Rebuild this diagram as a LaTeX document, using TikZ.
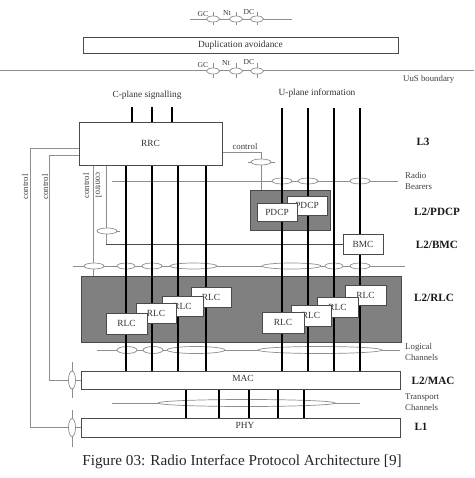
\documentclass[tikz,border=0pt]{standalone}
\usepackage{fontspec}
\setmainfont{Liberation Serif}
\usetikzlibrary{positioning,backgrounds}

\newcommand{\px}{0.03cm}
\definecolor{boxline}{HTML}{4A4A4A}
\definecolor{thinline}{HTML}{8E8E8E}
\definecolor{shade}{HTML}{808080}

\tikzset{
  box/.style={draw=boxline, fill=white, line width=0.6pt, inner sep=0pt, text=black!80, font=\fontsize{8}{9}\selectfont},
  zone/.style={draw=boxline, fill=shade, line width=0.6pt, inner sep=0pt},
  chan/.style={line width=2pt, black},
  ctrl/.style={draw=thinline, line width=0.6pt},
  oval/.style={draw=thinline, fill=white, line width=0.6pt},
  layer/.style={font=\fontsize{9.5}{10}\selectfont\bfseries, text=black!90},
  note/.style={font=\fontsize{7.5}{9.5}\selectfont, text=black!75, align=left, inner sep=0pt},
  tag/.style={font=\fontsize{6.5}{7}\selectfont, text=black!80, inner sep=0pt},
}

\begin{document}
\begin{tikzpicture}[x=0.03cm, y=-0.03cm]
\useasboundingbox (0,0) rectangle (474,478);

% Duplication avoidance and UuS boundary
\node[box, minimum width=315*\px, minimum height=16*\px] (dup) at (240.5,45) {Duplication avoidance};
\node[note, anchor=west] (uus) at (403,79) {UuS boundary};

% Boxes
\node[box, minimum width=143*\px, minimum height=43*\px] (rrc) at (150.5,143.5) {RRC};
\node[box, minimum width=40*\px, minimum height=19*\px] (pdcpB) at (307,205.5) {PDCP};
\node[box, minimum width=40*\px, minimum height=18*\px] (pdcpA) at (277,212) {PDCP};
\node[box, minimum width=40*\px, minimum height=20*\px] (bmc) at (363,244) {BMC};

% RLC boxes, back to front
\node[box, minimum width=40*\px, minimum height=20*\px] (rlcL4) at (211,297) {RLC};
\node[box, minimum width=41*\px, minimum height=20*\px] (rlcL3) at (182.5,306) {RLC};
\node[box, minimum width=40*\px, minimum height=20*\px] (rlcL2) at (156,313) {RLC};
\node[box, minimum width=41*\px, minimum height=21*\px] (rlcL1) at (126.5,323.5) {RLC};
\node[box, minimum width=41*\px, minimum height=20*\px] (rlcR4) at (365.5,295) {RLC};
\node[box, minimum width=41*\px, minimum height=20*\px] (rlcR3) at (337.5,307) {RLC};
\node[box, minimum width=40*\px, minimum height=21*\px] (rlcR2) at (311,315.5) {RLC};
\node[box, minimum width=42*\px, minimum height=21*\px] (rlcR1) at (283,322.5) {RLC};

\node[box, minimum width=319*\px, minimum height=18*\px] (mac) at (240.5,380) {};
\node[box, minimum width=319*\px, minimum height=19*\px] (phy) at (240.5,427.5) {};
\node[box, draw=none, fill=none] (macT) at (243,378) {MAC};
\node[box, draw=none, fill=none] (phyT) at (245,425) {PHY};

% Texts
\node[box, draw=none, fill=none] (cplane) at (147,95) {C-plane signalling};
\node[box, draw=none, fill=none] (uplane) at (317,93) {U-plane information};
\node[note] (rctl) at (245,146) {control};
\node[note, rotate=90] (ctlA) at (25,187) {control};
\node[note, rotate=90] (ctlB) at (45,187) {control};
\node[note, rotate=90] (ctlC) at (86,186) {control};
\node[note, rotate=-90] (ctlD) at (99,185) {control};

% Layer labels
\node[layer] (l3) at (423,142) {L3};
\node[layer] (l2pdcp) at (437,212) {L2/PDCP};
\node[layer] (l2bmc) at (437,245) {L2/BMC};
\node[layer] (l2rlc) at (434,298) {L2/RLC};
\node[layer] (l2mac) at (433,381) {L2/MAC};
\node[layer] (l1) at (421,427) {L1};
\node[note, anchor=west] (rb) at (405,181) {Radio\\Bearers};
\node[note, anchor=west] (lc) at (405,352) {Logical\\Channels};
\node[note, anchor=west] (tc) at (405,402) {Transport\\Channels};

% Caption
\node[font=\fontsize{13}{15}\selectfont, text=black!85] (caption) at (242,462) {Figure 03: Radio Interface Protocol Architecture [9]};

\begin{scope}[on background layer]
% Shaded zones
\node[zone, minimum width=80*\px, minimum height=40*\px] (pdcpzone) at (290,210) {};
\node[zone, minimum width=320*\px, minimum height=66*\px] (rlczone) at (241,309) {};

% GC / Nt / DC service access points
\draw[ctrl] (190,19) -- (292,19);
\draw[ctrl] (0,70) -- (474,70);
\foreach \x in {213,236,257} {
  \draw[ctrl] (\x,12) -- (\x,25);
  \draw[oval] (\x,19) ellipse (6.5 and 3);
  \draw[ctrl] (\x,63) -- (\x,78);
  \draw[oval] (\x,71) ellipse (6.5 and 3);
}
\node[tag] (gcT) at (203,14) {GC};
\node[tag] (ntT) at (227,13) {Nt};
\node[tag] (dcT) at (249,12) {DC};
\node[tag] (gcB) at (203,65) {GC};
\node[tag] (ntB) at (226,63) {Nt};
\node[tag] (dcB) at (249,62) {DC};

% Channel boundaries
\draw[ctrl] (112,181) -- (398,181);
\draw[ctrl] (73,266) -- (405,266);
\draw[ctrl] (97,350) -- (400,350);
\draw[ctrl] (112,403) -- (360,403);

% Control paths
\draw[ctrl] (rrc.east |- 0,152) -| (261,0 |- pdcpzone.north);
\draw[ctrl] (248,162) -- (275,162);
\draw[ctrl] (93,0 |- rrc.south) -- (93,0 |- rlczone.north);
\draw[ctrl] (106,0 |- rrc.south) -- (106,0 |- bmc.west);
\draw[ctrl] (97,231) -- (120,231);
\draw[boxline, line width=0.6pt] (106,0 |- bmc.west) -- (bmc.west);
\draw[ctrl] (rrc.west |- 0,148) -| (30,0 |- phy.west) -- (phy.west);
\draw[ctrl] (rrc.west |- 0,155) -| (49,0 |- mac.west) -- (mac.west);
\draw[ctrl] (72,362) -- (72,398);
\draw[ctrl] (72,410) -- (72,447);
\draw[oval] (72,0 |- mac.west) ellipse (3.5 and 9);
\draw[oval] (72,0 |- phy.west) ellipse (3.5 and 9);

% Service access points
\draw[oval] (261,162) ellipse (10 and 3);
\draw[oval] (107,231) ellipse (10 and 3);
\foreach \x in {282,308,360} \draw[oval] (\x,181) ellipse (10 and 3);
\foreach \x/\r in {94/10,126/9,152/10,193.5/23.5,291.5/29.5,334/9,360/10} \draw[oval] (\x,266) ellipse ({\r} and 3);
\foreach \x/\r in {127/10,153/10,196/29,320/62} \draw[oval] (\x,350) ellipse ({\r} and 3.5);
\draw[oval] (246.5,403) ellipse (88.5 and 3.5);

% Channels
\foreach \x in {132,152,172} \draw[chan] (\x,107) -- (\x,0 |- rrc.north);
\foreach \x in {126,152,178,206} \draw[chan] (\x,0 |- rrc.south) -- (\x,0 |- mac.north);
\foreach \x in {282,308,334,360} \draw[chan] (\x,108) -- (\x,0 |- mac.north);
\foreach \x in {186,219,249,278,304} \draw[chan] (\x,0 |- mac.south) -- (\x,0 |- phy.north);
\end{scope}

\end{tikzpicture}
\end{document}
